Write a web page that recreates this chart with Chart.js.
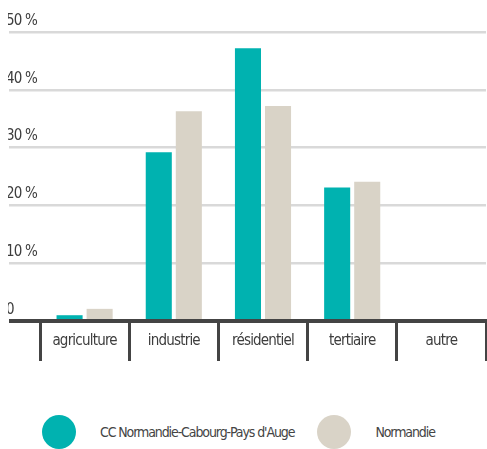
<!DOCTYPE html>
<html lang="fr">
<head>
<meta charset="utf-8">
<script src="https://cdn.jsdelivr.net/npm/chart.js@4.4.1/dist/chart.umd.min.js"></script>
<style>
  html, body { margin: 0; padding: 0; background: #fff; }
  #wrap { position: absolute; left: 8px; top: 0; width: 479px; height: 362px; }
  #legend {
    position: absolute; left: 42px; top: 415px; height: 34px;
    display: flex; align-items: center; white-space: nowrap;
    font-family: "DejaVu Sans Condensed", "Liberation Sans Narrow", sans-serif;
    font-size: 14px; letter-spacing: -1.1px; color: #444;
  }
  #legend .dot { width: 34px; height: 34px; border-radius: 50%; margin-right: 24px; }
  #legend .item { display: flex; align-items: center; margin-right: 23px; }
</style>
</head>
<body>
<div id="wrap"><canvas id="chart"></canvas></div>
<div id="legend"></div>
<script>
// Répartition des consommations par secteur (%)
const categories = ['agriculture', 'industrie', 'résidentiel', 'tertiaire', 'autre'];
const seriesNames = ['CC Normandie-Cabourg-Pays d\'Auge', 'Normandie'];
const ccValues = [1.0, 29.2, 47.2, 23.1, 0];
const normandieValues = [2.1, 36.3, 37.2, 24.1, 0];
const yTicks = [0, 10, 20, 30, 40, 50];
const seriesColors = ['#00b2b0', '#d9d3c7'];

const fontFamily = '"DejaVu Sans Condensed", "Liberation Sans Narrow", sans-serif';
const dark = '#444444';

// texte un peu resserré, façon police condensée
const tightText = {
    id: 'tightText',
    beforeDraw: chart => { chart.ctx.letterSpacing = '-0.8px'; }
};

const chart = new Chart(document.getElementById('chart'), {
    type: 'bar',
    data: {
        labels: categories,
        datasets: [
            { label: seriesNames[0], data: ccValues, backgroundColor: seriesColors[0] },
            { label: seriesNames[1], data: normandieValues, backgroundColor: seriesColors[1] }
        ]
    },
    plugins: [tightText],
    options: {
        responsive: true,
        maintainAspectRatio: false,
        animation: false,
        categoryPercentage: 0.674,
        barPercentage: 0.867,
        layout: { padding: { top: 32, right: 1, left: 0, bottom: 0 } },
        plugins: {
            legend: { display: false },
            tooltip: { enabled: false }
        },
        scales: {
            x: {
                grid: {
                    offset: true,
                    drawOnChartArea: false,
                    drawTicks: true,
                    tickLength: 40,
                    color: dark,
                    lineWidth: 3
                },
                border: { display: true, color: dark, width: 4 },
                ticks: {
                    color: '#3d3d3d',
                    padding: -29,
                    font: { family: fontFamily, size: 15 }
                },
                afterFit: scale => { scale.height = 41; }
            },
            y: {
                min: 0,
                max: 50,
                afterBuildTicks: scale => { scale.ticks = yTicks.map(v => ({ value: v })); },
                grid: {
                    drawTicks: true,
                    tickLength: 31,
                    color: ctx => ctx.tick && ctx.tick.value === 0 ? dark : '#d9d9d9',
                    lineWidth: ctx => ctx.tick && ctx.tick.value === 0 ? 4 : 2.5
                },
                border: { display: false },
                ticks: {
                    mirror: true,
                    padding: -34,
                    labelOffset: -11,
                    color: '#3d3d3d',
                    font: { family: fontFamily, size: 15 },
                    callback: v => v === 0 ? '0' : v + ' %'
                },
                afterFit: scale => { scale.width = 32; }
            }
        }
    }
});

// Légende construite à partir des jeux de données
const legend = document.getElementById('legend');
chart.data.datasets.forEach(ds => {
    const item = document.createElement('div');
    item.className = 'item';
    const dot = document.createElement('span');
    dot.className = 'dot';
    dot.style.background = ds.backgroundColor;
    const text = document.createElement('span');
    text.textContent = ds.label;
    item.appendChild(dot);
    item.appendChild(text);
    legend.appendChild(item);
});
</script>
</body>
</html>
